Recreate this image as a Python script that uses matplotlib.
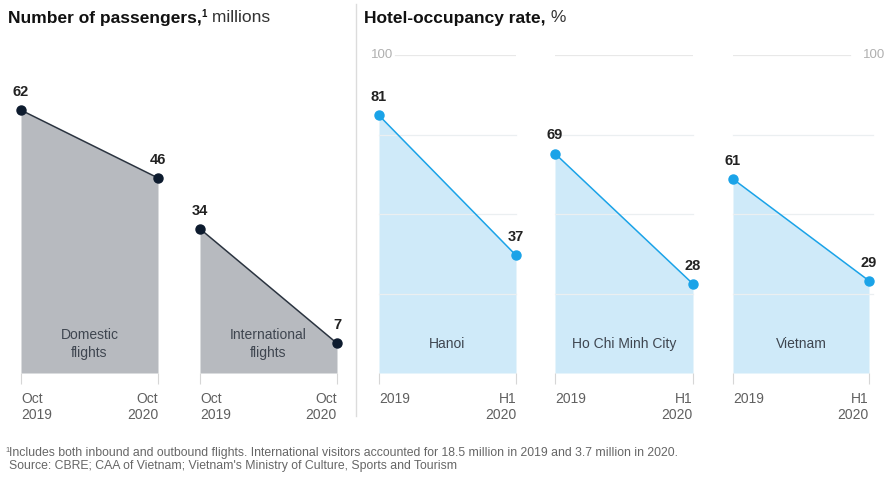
import matplotlib.pyplot as plt

plt.rcParams['font.family'] = ['Liberation Sans', 'DejaVu Sans']

# Pasajeros (millones)
flight_labels = ["Domestic\nflights", "International\nflights"]
flight_values = [[62, 46], [34, 7]]
flight_ticks = ["Oct\n2019", "Oct\n2020"]

# Ocupación hotelera (%)
hotel_labels = ["Hanoi", "Ho Chi Minh City", "Vietnam"]
hotel_values = [[81, 37], [69, 28], [61, 29]]
hotel_ticks = ["2019", "H1\n2020"]
hotel_grid = [25, 50, 75]

W, H = 886, 479
fig = plt.figure(figsize=(W / 100, H / 100), dpi=100)
renderer = fig.canvas.get_renderer()

base_px = 373
top_px = 55
bottom = (H - base_px) / H
height = (base_px - top_px) / H

def make_ax(x0, x1):
    ax = fig.add_axes([x0 / W, bottom, (x1 - x0) / W, height])
    ax.set_xlim(0, 1)
    for s in ax.spines.values():
        s.set_visible(False)
    ax.set_yticks([])
    ax.tick_params(axis='x', length=8, width=0.8, color='#d6d6d6',
                   pad=6, labelsize=10, labelcolor='#606060')
    return ax

def style_ticks(ax, labels):
    ax.set_xticks([0, 1])
    ax.set_xticklabels(labels)
    t = ax.get_xticklabels()
    t[0].set_ha('left')
    t[1].set_ha('right')
    for lab in t:
        lab.set_va('top')
        lab.set_linespacing(1.15)

def title(x_px, bold, rest):
    # título en negrita + superíndice opcional + resto normal
    y = 1 - 18 / H
    t = fig.text(x_px / W, y, bold, ha='left', va='center', fontsize=12.5,
                 fontweight='bold', color='#111111')
    x_end = t.get_window_extent(renderer).x1
    for piece, kw in rest:
        t = fig.text(x_end / W, y + kw.pop('dy', 0), piece, ha='left',
                     va='center', **kw)
        x_end = t.get_window_extent(renderer).x1

xs = [0, 1]

# panel izquierdo
gray_fill = '#b7babf'
navy = '#0d1b2e'
for (x0, x1), lab, vals in zip([(21, 158), (200, 337)], flight_labels, flight_values):
    ax = make_ax(x0, x1)
    ax.set_ylim(0, 75)
    ax.fill_between(xs, vals, 0, color=gray_fill, lw=0, zorder=1)
    ax.plot(xs, vals, color='#2b3440', lw=1.1, zorder=2, clip_on=False)
    ax.plot(xs, vals, 'o', color=navy, ms=6.5, zorder=3, clip_on=False)
    for x, v in zip(xs, vals):
        ax.annotate(str(v), (x, v), xytext=(0, 8), textcoords='offset points',
                    ha='center', va='bottom', fontsize=10.5, fontweight='bold',
                    color='#222222')
    ax.text(0.5, 29 / 318 * 75, lab, ha='center', va='center', fontsize=10,
            color='#3f4650', linespacing=1.35)
    style_ticks(ax, flight_ticks)

# panel derecho
blue_fill = '#cfeaf9'
blue = '#1aa3e8'
hotel_pos = [(379, 516), (555, 693), (733, 869)]
for i, ((x0, x1), lab, vals) in enumerate(zip(hotel_pos, hotel_labels, hotel_values)):
    ax = make_ax(x0, x1)
    ax.set_ylim(0, 100)
    ax.fill_between(xs, vals, 0, color=blue_fill, lw=0, zorder=1)
    for g in hotel_grid:
        ax.axhline(g, color='#ebeff1', lw=0.9, zorder=1.5,
                   xmax=1.03 if i == 2 else 1.0, clip_on=False)
    if i == 0:
        ax.axhline(100, xmin=0.12, xmax=1.0, color='#e8e8e8', lw=0.9)
        ax.text(-0.06, 100, "100", ha='left', va='center', fontsize=9.5,
                color='#b0b0b0')
    elif i == 2:
        ax.axhline(100, xmin=0.0, xmax=0.86, color='#e8e8e8', lw=0.9)
        ax.text(1.12, 100, "100", ha='right', va='center', fontsize=9.5,
                color='#b0b0b0', clip_on=False)
    else:
        ax.axhline(100, color='#e8e8e8', lw=0.9)
    ax.plot(xs, vals, color=blue, lw=1.1, zorder=2, clip_on=False)
    ax.plot(xs, vals, 'o', color=blue, ms=6.5, zorder=3, clip_on=False)
    for x, v in zip(xs, vals):
        ax.annotate(str(v), (x, v), xytext=(0, 8), textcoords='offset points',
                    ha='center', va='bottom', fontsize=10.5, fontweight='bold',
                    color='#222222')
    ax.text(0.5, 29 / 318 * 100, lab, ha='center', va='center', fontsize=10,
            color='#3f4650')
    style_ticks(ax, hotel_ticks)

# títulos
title(8, "Number of passengers,",
      [("1", dict(fontsize=7, fontweight='bold', color='#111111', dy=0.008)),
       (" millions", dict(fontsize=12.5, color='#333333'))])
title(364, "Hotel-occupancy rate,",
      [(" %", dict(fontsize=12.5, color='#333333'))])

# separador
fig.add_artist(plt.Line2D([356 / W, 356 / W], [1 - 4 / H, 1 - 416 / H],
                          color='#dcdcdc', lw=1))

# notas
fig.text(9 / W, 1 - 453 / H,
         "Includes both inbound and outbound flights. International visitors "
         "accounted for 18.5 million in 2019 and 3.7 million in 2020.",
         ha='left', va='center', fontsize=8.8, color='#666666')
fig.text(5 / W, 1 - 450 / H, "1", ha='left', va='center', fontsize=5.5,
         color='#666666')
fig.text(9 / W, 1 - 466 / H,
         "Source: CBRE; CAA of Vietnam; Vietnam's Ministry of Culture, Sports and Tourism",
         ha='left', va='center', fontsize=8.8, color='#666666')

fig.savefig("out.png", dpi=100, facecolor='white')
